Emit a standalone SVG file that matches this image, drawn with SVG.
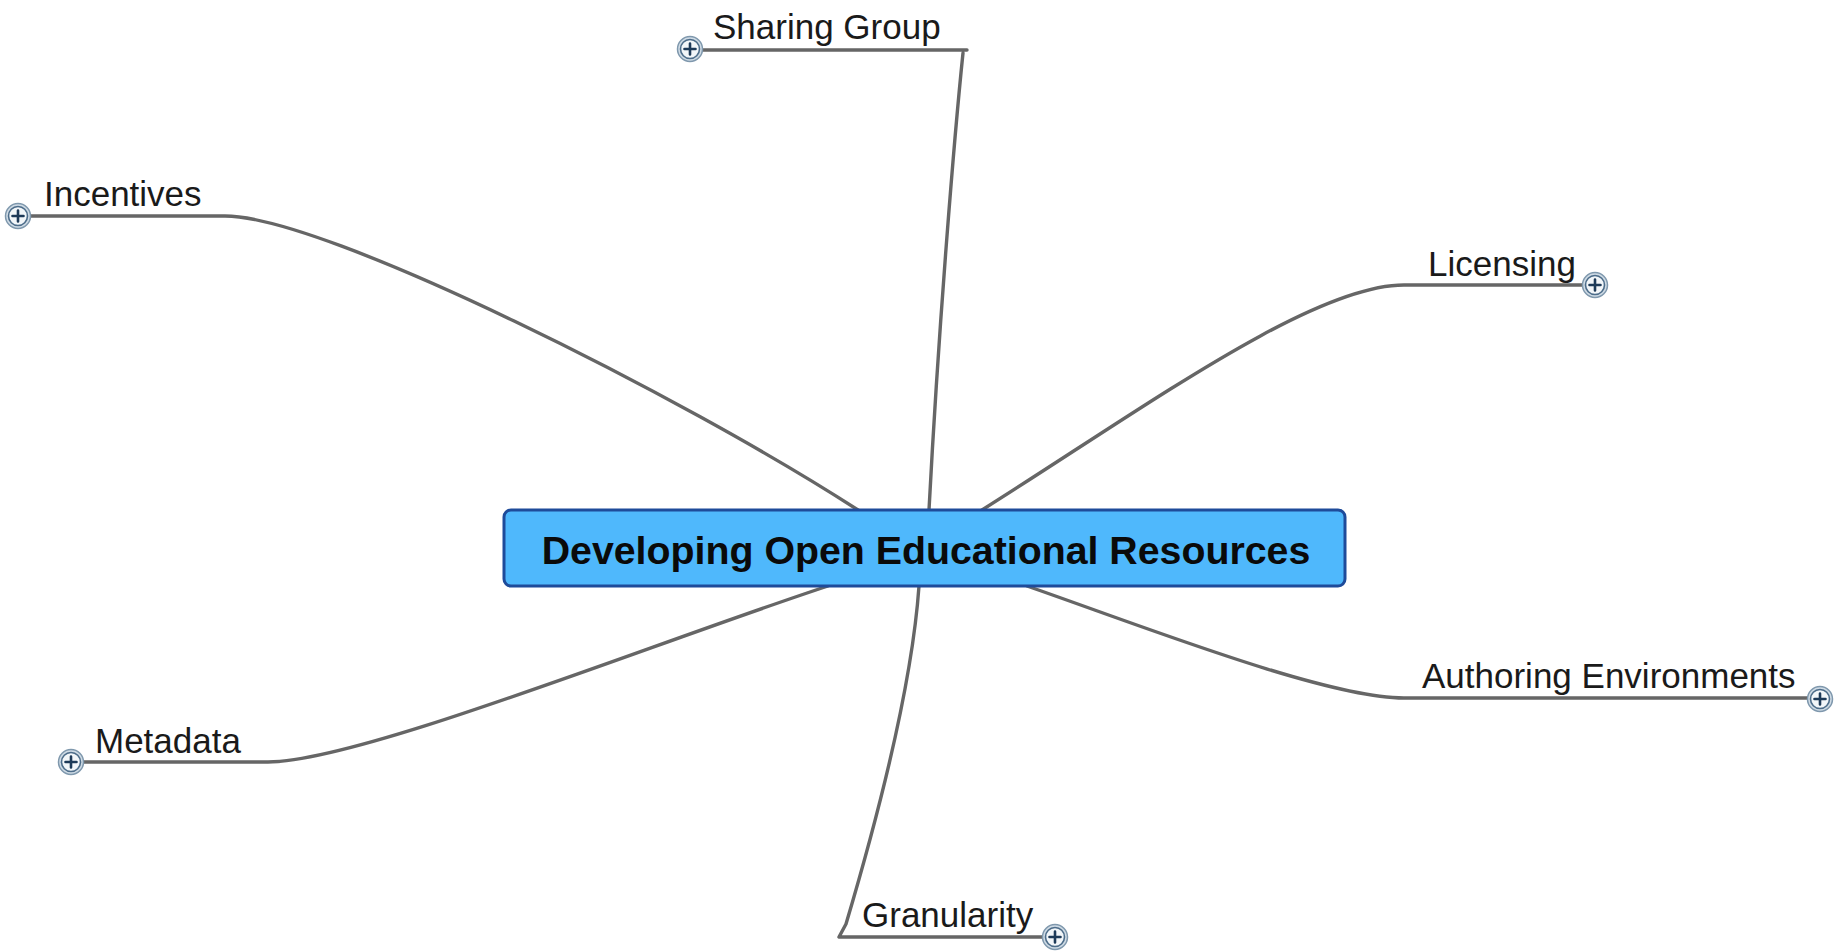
<svg xmlns="http://www.w3.org/2000/svg" width="1846" height="951" viewBox="0 0 1846 951">
<style>
.conn{fill:none;stroke:#666666;stroke-width:3.4;stroke-linecap:round;stroke-linejoin:round}
.lbl{font-family:"Liberation Sans",Arial,sans-serif;font-size:35px;fill:#1a1a1a}
.title{font-family:"Liberation Sans",Arial,sans-serif;font-size:39.3px;font-weight:bold;fill:#0a0a0a}
.icon-out{fill:#cfdbe5;stroke:#7f98ad;stroke-width:1.5}
.icon-in{fill:#f2f6f9;stroke:#4d6d8a;stroke-width:1.6}
.pl{stroke:#1d3a58;stroke-width:2.6;stroke-linecap:round}
</style>
<defs>
<g id="plus">
<circle class="icon-out" r="12.5"/>
<circle class="icon-in" r="9.5"/>
<path class="pl" d="M-5.5,0H5.5M0,-5.5V5.5"/>
</g>
</defs>
<rect width="1846" height="951" fill="#ffffff"/>
<g id="connectors">
<path class="conn" d="M690,50 L967,50 M929,510 C939,320 955,130 963,53"/>
<path class="conn" d="M18,216 L225,216 C325,216 685,398 858,510"/>
<path class="conn" d="M982,510 C1144,408 1312,285 1404,285 L1595,285"/>
<path class="conn" d="M1027,586 C1145,627 1326,698 1404,698 L1820,698"/>
<path class="conn" d="M828,586 C646,646 358,762 268,762 L71,762"/>
<path class="conn" d="M919,586 C911,700 868,850 846,924 L839,937 L1055,937"/>
</g>
<g id="node-center">
<rect x="504" y="510" width="841" height="76" rx="7" ry="7" fill="#4fb8fc" stroke="#1e4b9a" stroke-width="3"/>
<text class="title" x="926" y="564" text-anchor="middle">Developing Open Educational Resources</text>
</g>
<g id="node-sharing">
<text class="lbl" x="713" y="39">Sharing Group</text>
<use href="#plus" x="690" y="49"/>
</g>
<g id="node-incentives">
<text class="lbl" x="44" y="206">Incentives</text>
<use href="#plus" x="18" y="216"/>
</g>
<g id="node-licensing">
<text class="lbl" x="1428" y="276">Licensing</text>
<use href="#plus" x="1595" y="285"/>
</g>
<g id="node-authoring">
<text class="lbl" x="1422" y="688">Authoring Environments</text>
<use href="#plus" x="1820" y="699"/>
</g>
<g id="node-metadata">
<text class="lbl" x="95" y="753">Metadata</text>
<use href="#plus" x="71" y="762"/>
</g>
<g id="node-granularity">
<text class="lbl" x="862" y="927">Granularity</text>
<use href="#plus" x="1055" y="937"/>
</g>
</svg>
